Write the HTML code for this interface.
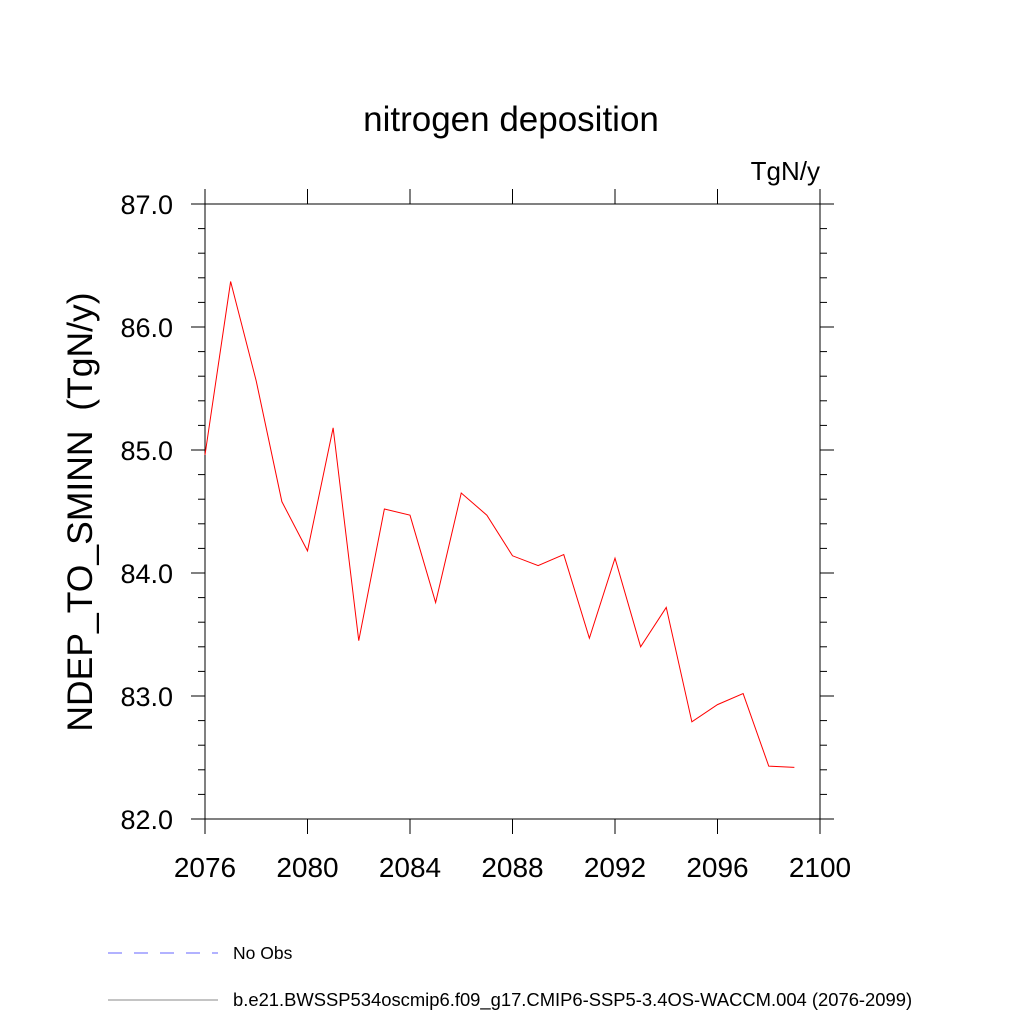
<!DOCTYPE html>
<html><head><meta charset="utf-8"><style>
body{margin:0;background:#fff;}
svg text{font-family:"Liberation Sans",sans-serif;}
</style></head><body>
<svg id="chart" width="1024" height="1024" viewBox="0 0 1024 1024">
<text x="511" y="131" font-size="35" text-anchor="middle">nitrogen deposition</text>
<text x="820" y="180" font-size="26" text-anchor="end">TgN/y</text>
<text transform="translate(92,512) rotate(-90)" font-size="35.5" text-anchor="middle">NDEP_TO_SMINN&#160; (TgN/y)</text>
<g id="axes"></g>
<g id="series"></g>
<g>
<line x1="108" y1="953" x2="218" y2="953" stroke="#6666ff" stroke-width="1" stroke-dasharray="14,12"/>
<text x="233" y="959" font-size="17.5">No Obs</text>
<line x1="108" y1="1000" x2="218" y2="1000" stroke="#888" stroke-width="1"/>
<text x="233" y="1006" font-size="18.4">b.e21.BWSSP534oscmip6.f09_g17.CMIP6-SSP5-3.4OS-WACCM.004 (2076-2099)</text>
</g>
</svg>
<script>
const years=[2076,2077,2078,2079,2080,2081,2082,2083,2084,2085,2086,2087,2088,2089,2090,2091,2092,2093,2094,2095,2096,2097,2098,2099];
const values=[84.96,86.37,85.56,84.58,84.18,85.18,83.45,84.52,84.47,83.76,84.65,84.47,84.14,84.06,84.15,83.47,84.12,83.40,83.72,82.79,82.93,83.02,82.43,82.42];
const xTicks=[2076,2080,2084,2088,2092,2096,2100];
const yTicks=[82,83,84,85,86,87];
const X0=205,X1=820,Y0=819,Y1=204,xmin=2076,xmax=2100,ymin=82,ymax=87;
const ns="http://www.w3.org/2000/svg";
function xs(v){return X0+(v-xmin)/(xmax-xmin)*(X1-X0);}
function ys(v){return Y0-(v-ymin)/(ymax-ymin)*(Y0-Y1);}
const ax=document.getElementById('axes');
function ln(x1,y1,x2,y2,name){const l=document.createElementNS(ns,'line');l.setAttribute('x1',x1);l.setAttribute('y1',y1);l.setAttribute('x2',x2);l.setAttribute('y2',y2);l.setAttribute('stroke','#000');l.setAttribute('stroke-width','1');


ax.appendChild(l);return l;}
const fr=document.createElementNS(ns,'rect');fr.setAttribute('x',X0);fr.setAttribute('y',Y1);fr.setAttribute('width',X1-X0);fr.setAttribute('height',Y0-Y1);fr.setAttribute('fill','none');fr.setAttribute('stroke','#000');


ax.appendChild(fr);
xTicks.forEach(t=>{const x=xs(t);ln(x,Y0,x,Y0+15,'x-tick');ln(x,Y1,x,Y1-15,'x-tick-top');
const tx=document.createElementNS(ns,'text');tx.setAttribute('x',x);tx.setAttribute('y',877);tx.setAttribute('font-size','28');tx.setAttribute('text-anchor','middle');tx.textContent=t;


ax.appendChild(tx);});
for(let v=ymin;v<=ymax+1e-9;v+=0.2){const y=ys(v);const major=Math.abs(v-Math.round(v))<1e-6;const L=major?14:7;ln(X0,y,X0-L,y,major?'y-tick':'y-minor-tick');ln(X1,y,X1+L,y,major?'y-tick-right':'y-minor-tick-right');}
yTicks.forEach(t=>{const tx=document.createElementNS(ns,'text');tx.setAttribute('x',173);tx.setAttribute('y',ys(t)+10);tx.setAttribute('font-size','27');tx.setAttribute('text-anchor','end');tx.textContent=t.toFixed(1);


ax.appendChild(tx);});
const p=document.createElementNS(ns,'polyline');
p.setAttribute('points',years.map((y,i)=>xs(y)+','+ys(values[i])).join(' '));
p.setAttribute('fill','none');p.setAttribute('stroke','#ff0000');p.setAttribute('stroke-width','1');


document.getElementById('series').appendChild(p);
</script>
</body></html>
